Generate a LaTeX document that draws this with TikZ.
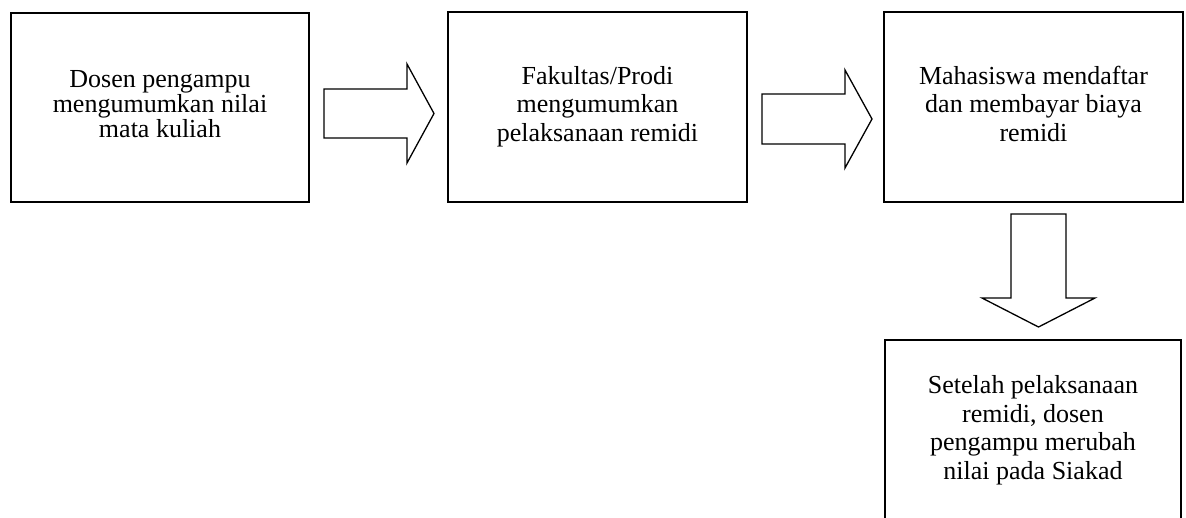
\documentclass[tikz,border=0pt]{standalone}
\usepackage{fontspec}
\setmainfont{Liberation Serif}

\tikzset{
  stepbox/.style={draw, line width=1.8pt, inner sep=0pt, align=center,
    font=\fontsize{26}{28.5}\selectfont},
  blockarrow/.style={draw, line width=1.3pt, line join=miter},
}

\begin{document}
\begin{tikzpicture}[x=1pt, y=-1pt]
  \useasboundingbox (0,0) rectangle (1186,517);
  \clip (0,0) rectangle (1186,517);

  % process steps
  \node[stepbox, minimum width=298pt, minimum height=189pt,
        font=\fontsize{26}{24.5}\selectfont] (lecturer) at (160,107.5)
    {\begin{tabular}[t]{c}Dosen pengampu\\mengumumkan nilai\\mata kuliah\end{tabular}};
  \node[stepbox, minimum width=299pt, minimum height=190pt] (faculty) at (597.5,107)
    {\begin{tabular}[t]{c}Fakultas/Prodi\\mengumumkan\\pelaksanaan remidi\end{tabular}};
  \node[stepbox, minimum width=299pt, minimum height=190pt] (student) at (1033.5,107)
    {\begin{tabular}[t]{c}Mahasiswa mendaftar\\dan membayar biaya\\remidi\end{tabular}};
  \node[stepbox, minimum width=296pt, minimum height=182pt] (update) at (1033,431)
    {\begin{tabular}[t]{c}Setelah pelaksanaan\\remidi, dosen\\pengampu merubah\\nilai pada Siakad\end{tabular}};

  % block arrows between the steps
  \draw[blockarrow] (324,89) -- (407,89) -- (407,64) -- (434,113.5)
    -- (407,163) -- (407,138) -- (324,138) -- cycle;
  \draw[blockarrow] (762,94) -- (845,94) -- (845,70) -- (872,119)
    -- (845,168) -- (845,144) -- (762,144) -- cycle;
  \draw[blockarrow] (1011,214) -- (1066,214) -- (1066,298) -- (1095,298)
    -- (1038.5,327) -- (982,298) -- (1011,298) -- cycle;
\end{tikzpicture}
\end{document}
